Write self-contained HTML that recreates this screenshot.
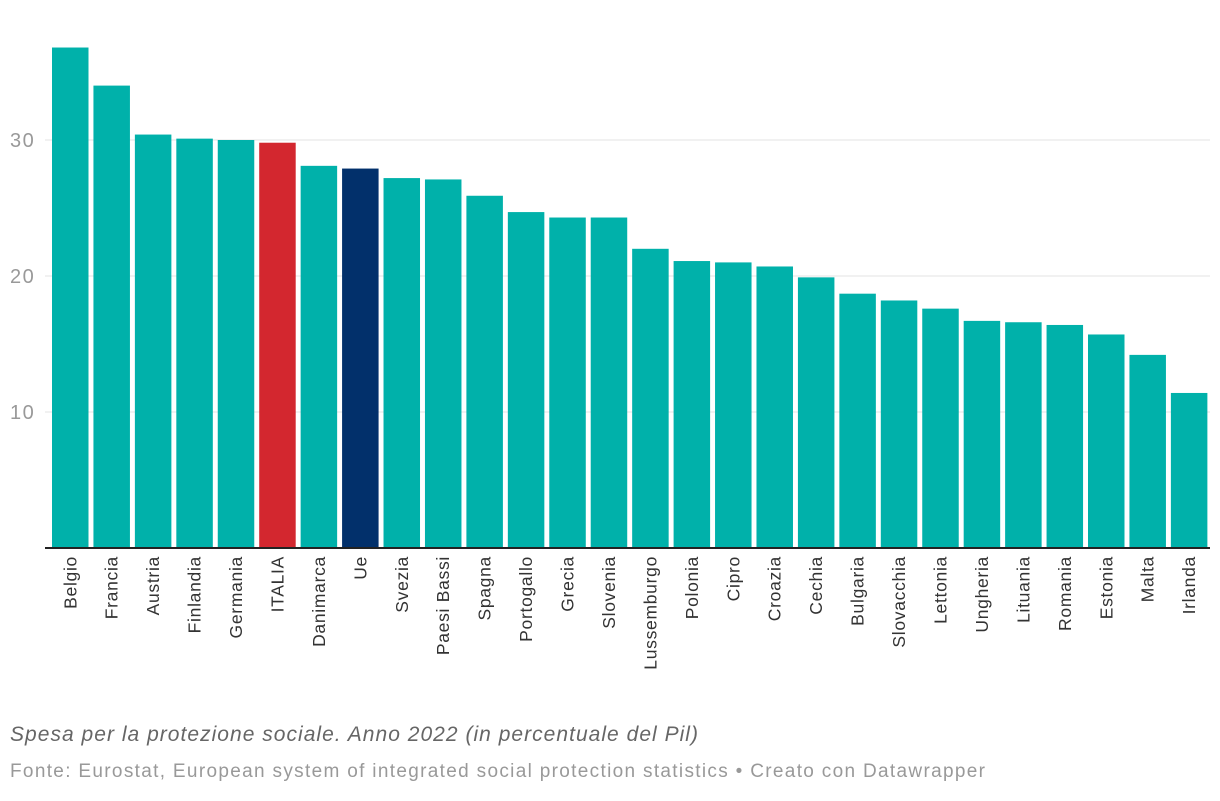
<!DOCTYPE html>
<html><head><meta charset="utf-8"><style>
body{margin:0;background:#fff;width:1220px;height:796px;overflow:hidden;font-family:"Liberation Sans",sans-serif}
</style></head><body>
<svg id="chart" width="1220" height="796" xmlns="http://www.w3.org/2000/svg"></svg>
<script>
const categories=["Belgio","Francia","Austria","Finlandia","Germania","ITALIA","Danimarca","Ue","Svezia","Paesi Bassi","Spagna","Portogallo","Grecia","Slovenia","Lussemburgo","Polonia","Cipro","Croazia","Cechia","Bulgaria","Slovacchia","Lettonia","Ungheria","Lituania","Romania","Estonia","Malta","Irlanda"];
const values=[36.8,34.0,30.4,30.1,30.0,29.8,28.1,27.9,27.2,27.1,25.9,24.7,24.3,24.3,22.0,21.1,21.0,20.7,19.9,18.7,18.2,17.6,16.7,16.6,16.4,15.7,14.2,11.4];
const yTicks=[10,20,30];
const NS="http://www.w3.org/2000/svg";
const svg=document.getElementById('chart');
const y0=548,ppu=13.6,x0=52,pitch=41.44,bw=36.5;
const y=v=>y0-v*ppu;
const x=i=>x0+i*pitch;
function mk(t,a){const e=document.createElementNS(NS,t);for(const k in a)e.setAttribute(k,a[k]);svg.appendChild(e);return e;}
yTicks.forEach(t=>{
  const l=mk('line',{x1:45,x2:1210,y1:y(t),y2:y(t),stroke:'#e3e3e3','stroke-width':1});
  
  
  const tx=mk('text',{x:10,y:y(t)+7,fill:'#999','font-size':20,'letter-spacing':1.5});
  tx.textContent=t;
  
  
});
categories.forEach((c,i)=>{
  const col=c==="ITALIA"?'#d3272f':(c==="Ue"?'#02306b':'#00b1aa');
  const r=mk('rect',{x:x(i),y:y(values[i]),width:bw,height:values[i]*ppu,fill:col});
  
  
  const cx=x(i)+bw/2+6;
  const t=mk('text',{x:cx,y:556,'font-size':17.5,'letter-spacing':0.7,fill:'#333','text-anchor':'end',transform:`rotate(-90 ${cx} 556)`});
  t.textContent=c;
  
  
});
const b=mk('line',{x1:45,x2:1210,y1:y0,y2:y0,stroke:'#222','stroke-width':2});


const c1=mk('text',{x:10,y:741,'font-size':21,'font-style':'italic',fill:'#666',textLength:688,lengthAdjust:'spacing'});
c1.textContent="Spesa per la protezione sociale. Anno 2022 (in percentuale del Pil)";


const c2=mk('text',{x:10,y:777,'font-size':19,fill:'#999',textLength:975,lengthAdjust:'spacing'});
c2.textContent="Fonte: Eurostat, European system of integrated social protection statistics • Creato con Datawrapper";


</script>
</body></html>
